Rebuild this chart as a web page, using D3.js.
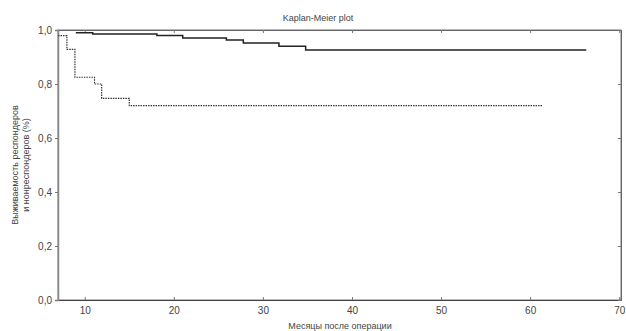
<!DOCTYPE html>
<html>
<head>
<meta charset="utf-8">
<script src="https://cdn.jsdelivr.net/npm/d3@7"></script>
<style>
  body { margin: 0; background: #fff; }
  text { font-family: "Liberation Sans", Arial, sans-serif; fill: #444; }
</style>
</head>
<body>
<div id="chart"></div>
<script>
// Данные кривых (месяцы, выживаемость)
const respTime = [9, 10.9, 18.1, 21, 25.9, 27.8, 31.8, 34.8, 66.3];
const respSurv = [0.99, 0.985, 0.98, 0.97, 0.963, 0.952, 0.94, 0.926, 0.926];
const nonTime = [7, 8, 8.9, 11.1, 11.9, 15, 61.4];
const nonSurv = [0.979, 0.928, 0.825, 0.8, 0.747, 0.72, 0.72];
const xTicks = [10, 20, 30, 40, 50, 60, 70];
const yTicks = [0, 0.2, 0.4, 0.6, 0.8, 1.0];

const width = 626, height = 331;
const margin = { top: 30, right: 5, bottom: 31, left: 58 };

const svg = d3.select("#chart").append("svg")
  .attr("width", width).attr("height", height);

const x = d3.scaleLinear().domain([7, 70.2]).range([margin.left, width - margin.right]);
const y = d3.scaleLinear().domain([0, 1]).range([height - margin.bottom, margin.top]);

const fmt = d => d3.format(".1f")(d).replace(".", ",");

// Рамка
svg.append("rect")
  .attr("x", x.range()[0]).attr("y", y.range()[1])
  .attr("width", x.range()[1] - x.range()[0])
  .attr("height", y.range()[0] - y.range()[1])
  .attr("fill", "none").attr("stroke", "#777").attr("stroke-width", 1);

// Оси
const axB = svg.append("g").attr("transform", `translate(0,${y(0)})`)
  .call(d3.axisBottom(x).tickValues(xTicks).tickSize(-3).tickPadding(7));
const axT = svg.append("g").attr("transform", `translate(0,${y(1)})`)
  .call(d3.axisTop(x).tickValues(xTicks).tickSize(-3).tickFormat(""));
const axL = svg.append("g").attr("transform", `translate(${x.range()[0]},0)`)
  .call(d3.axisLeft(y).tickValues(yTicks).tickSize(3).tickPadding(3).tickFormat(fmt));
const axR = svg.append("g").attr("transform", `translate(${x.range()[1]},0)`)
  .call(d3.axisRight(y).tickValues(yTicks).tickSize(-3).tickFormat(""));

[axB, axT, axL, axR].forEach(g => {
  g.select(".domain").attr("stroke", "#666");
  g.selectAll(".tick line").attr("stroke", "#777");
  g.selectAll("text").style("font-size", "10px").style("fill", "#444")
    .style("font-family", "'Liberation Sans', Arial, sans-serif");
});
axB.select(".domain").attr("stroke", "#444");
axL.select(".domain").attr("stroke", "#888").attr("stroke-width", 1.5);

// Ступенчатые линии
const line = d3.line().curve(d3.curveStepAfter).x(d => x(d[0])).y(d => y(d[1]));

svg.append("path")
  .datum(respTime.map((t, i) => [t, respSurv[i]]))
  .attr("d", line)
  .attr("fill", "none").attr("stroke", "#222").attr("stroke-width", 1.5);

svg.append("path")
  .datum(nonTime.map((t, i) => [t, nonSurv[i]]))
  .attr("d", line)
  .attr("fill", "none").attr("stroke", "#333").attr("stroke-width", 1.2)
  .attr("stroke-dasharray", "1.5,1");

// Подписи
svg.append("text").attr("x", 318).attr("y", 21)
  .attr("text-anchor", "middle").style("font-size", "9px").text("Kaplan-Meier plot");

svg.append("text").attr("x", 340).attr("y", 329)
  .attr("text-anchor", "middle").style("font-size", "9px").text("Месяцы после операции");

const ylab = svg.append("text")
  .attr("transform", "translate(0,165) rotate(-90)")
  .attr("text-anchor", "middle").style("font-size", "9px");
ylab.append("tspan").attr("x", 0).attr("y", 18).text("Выживаемость респондеров");
ylab.append("tspan").attr("x", 0).attr("y", 29).text("и нонреспондеров (%)");
</script>
</body>
</html>
